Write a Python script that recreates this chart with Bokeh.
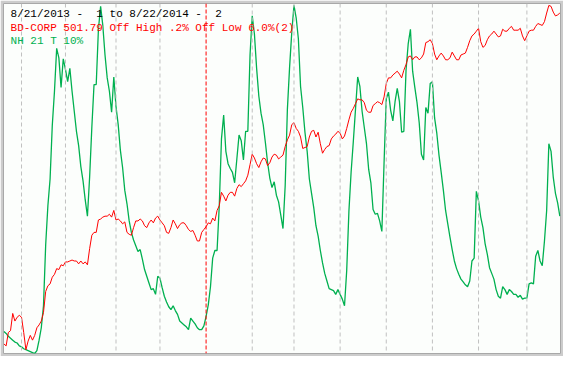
import pandas as pd
from bokeh.plotting import figure
from bokeh.models import Range1d, Span, Label, ColumnDataSource
from bokeh.embed import file_html
from bokeh.resources import INLINE

# ---- data -------------------------------------------------------------
START = "2013-08-21"
END = "2014-08-22"
HOLIDAYS = ["2013-09-02", "2013-11-28", "2013-12-25", "2014-01-01", "2014-01-20",
            "2014-02-17", "2014-04-18", "2014-05-26", "2014-07-04"]

title_line = "8/21/2013 -  1 to 8/22/2014 -  2"
bd_label = "BD-CORP 501.79 Off High .2% Off Low 6.0%(2)"
nh_label = "NH 21 T 10%"

# BD-CORP (relative level, scaled to chart height)
bd_corp = [
    10, 8, 22, 24, 42, 34, 38, 40, 38, 22,
    4, 13, 19, 14, 19, 27, 30, 34, 43, 65,
    71, 73, 80, 83, 89, 88, 93, 92, 96, 96,
    97, 98, 97, 97, 94, 97, 94, 96, 93, 110,
    124, 127, 127, 140, 141, 143, 144, 144, 146, 143,
    150, 140, 141, 139, 136, 138, 127, 125, 124, 132,
    139, 139, 141, 139, 134, 132, 137, 140, 137, 142,
    144, 140, 137, 134, 127, 126, 132, 140, 136, 131,
    135, 137, 137, 134, 130, 128, 129, 124, 118, 118,
    127, 130, 133, 137, 136, 142, 139, 150, 155, 169,
    165, 160, 166, 169, 169, 165, 173, 177, 175, 178,
    181, 187, 198, 209, 205, 199, 195, 201, 205, 204,
    197, 200, 206, 209, 208, 204, 206, 208, 217, 224,
    229, 240, 242, 236, 233, 227, 215, 216, 217, 227,
    233, 234, 227, 232, 220, 210, 214, 217, 218, 225,
    228, 230, 233, 231, 225, 228, 236, 245, 253, 257,
    262, 267, 266, 266, 263, 255, 253, 253, 260, 262,
    264, 263, 261, 269, 283, 289, 289, 292, 294, 296,
    293, 289, 297, 303, 311, 312, 308, 311, 311, 308,
    310, 314, 326, 327, 329, 325, 314, 308, 312, 315,
    312, 308, 308, 310, 316, 312, 308, 308, 313, 314,
    315, 321, 328, 333, 335, 338, 341, 327, 321, 323,
    329, 333, 335, 338, 335, 332, 333, 340, 338, 338,
    341, 343, 339, 339, 339, 341, 333, 328, 333, 338,
    339, 339, 343, 346, 345, 344, 348, 357, 365, 364,
    358, 354, 355, 357,
]

# NH 21 T 10% (relative level, scaled to chart height)
nh_21 = [
    23, 21, 18, 16, 14, 12, 11, 8, 7, 5,
    4, 3, 2, 1, 0, 3, 14, 27, 50, 114,
    155, 183, 239, 275, 320, 310, 279, 309, 298, 285,
    299, 275, 254, 233, 218, 196, 181, 161, 144, 185,
    237, 282, 282, 340, 364, 344, 313, 289, 275, 253,
    290, 259, 240, 213, 195, 171, 157, 139, 127, 119,
    113, 107, 109, 99, 88, 81, 74, 67, 68, 62,
    81, 79, 69, 60, 54, 49, 46, 50, 45, 41,
    34, 32, 30, 28, 25, 37, 34, 31, 27, 25,
    25, 29, 39, 51, 70, 100, 108, 108, 155, 225,
    250, 212, 199, 194, 190, 179, 204, 229, 223, 203,
    233, 233, 313, 354, 335, 299, 270, 252, 240, 221,
    200, 184, 174, 180, 166, 159, 145, 131, 176, 256,
    300, 337, 365, 352, 330, 280, 258, 232, 212, 183,
    168, 153, 134, 123, 108, 95, 84, 76, 68, 67,
    66, 62, 67, 62, 57, 50, 87, 149, 190, 222,
    256, 290, 280, 254, 237, 220, 193, 179, 151, 146,
    147, 139, 128, 200, 267, 274, 255, 244, 264, 278,
    264, 232, 233, 297, 325, 340, 296, 279, 263, 242,
    209, 203, 258, 252, 283, 285, 247, 231, 208, 190,
    171, 150, 136, 122, 109, 97, 89, 83, 78, 75,
    72, 70, 76, 97, 100, 170, 160, 143, 132, 115,
    104, 90, 84, 78, 67, 60, 58, 70, 67, 62,
    67, 65, 62, 62, 59, 61, 57, 58, 58, 73,
    74, 73, 102, 108, 97, 92, 118, 150, 220, 212,
    185, 168, 158, 144,
]

# ---- derived ----------------------------------------------------------
dates = pd.bdate_range(START, END, freq="C", holidays=HOLIDAYS)
n = min(len(dates), len(bd_corp), len(nh_21))
dates = dates[:n]
idx = list(range(n))
src = ColumnDataSource(dict(x=idx, bd=bd_corp[:n], nh=nh_21[:n]))

month_starts = [i for i in range(1, n) if dates[i].month != dates[i - 1].month]
year_starts = [i for i in range(1, n) if dates[i].year != dates[i - 1].year]

# ---- figure -----------------------------------------------------------
p = figure(width=563, height=356,
           x_range=Range1d(-0.2, n - 0.7), y_range=Range1d(0, 367),
           toolbar_location=None, output_backend="svg",
           x_axis_location=None, y_axis_location=None,
           min_border=3,
           background_fill_color="#FCFEFC",
           border_fill_color="#CCCCCC",
           outline_line_color="#A8A8A8")
p.grid.visible = False

for i in month_starts:
    if i in year_starts:
        p.add_layout(Span(location=i, dimension="height", line_color="#FF0000",
                          line_dash="4 2", line_width=1))
    else:
        p.add_layout(Span(location=i, dimension="height", line_color="#C0C0C0",
                          line_dash="4 3", line_width=1))

p.line("x", "nh", source=src, line_color="#00B050", line_width=1.3)
p.line("x", "bd", source=src, line_color="#FF0000", line_width=1)

def keep_spaces(s):
    # SVG collapses runs of spaces; keep the double spaces visible
    return s.replace("  ", " \u00a0")

for txt, col, yv in [(title_line, "#000000", 355.5),
                     (bd_label, "#FF0000", 341.5),
                     (nh_label, "#00B050", 327.5)]:
    p.add_layout(Label(x=3.0, y=yv, text=keep_spaces(txt), text_color=col,
                       text_font="Liberation Mono", text_font_size="11px",
                       text_baseline="alphabetic", text_align="left"))

open("out.html", "w").write(file_html(p, INLINE))
